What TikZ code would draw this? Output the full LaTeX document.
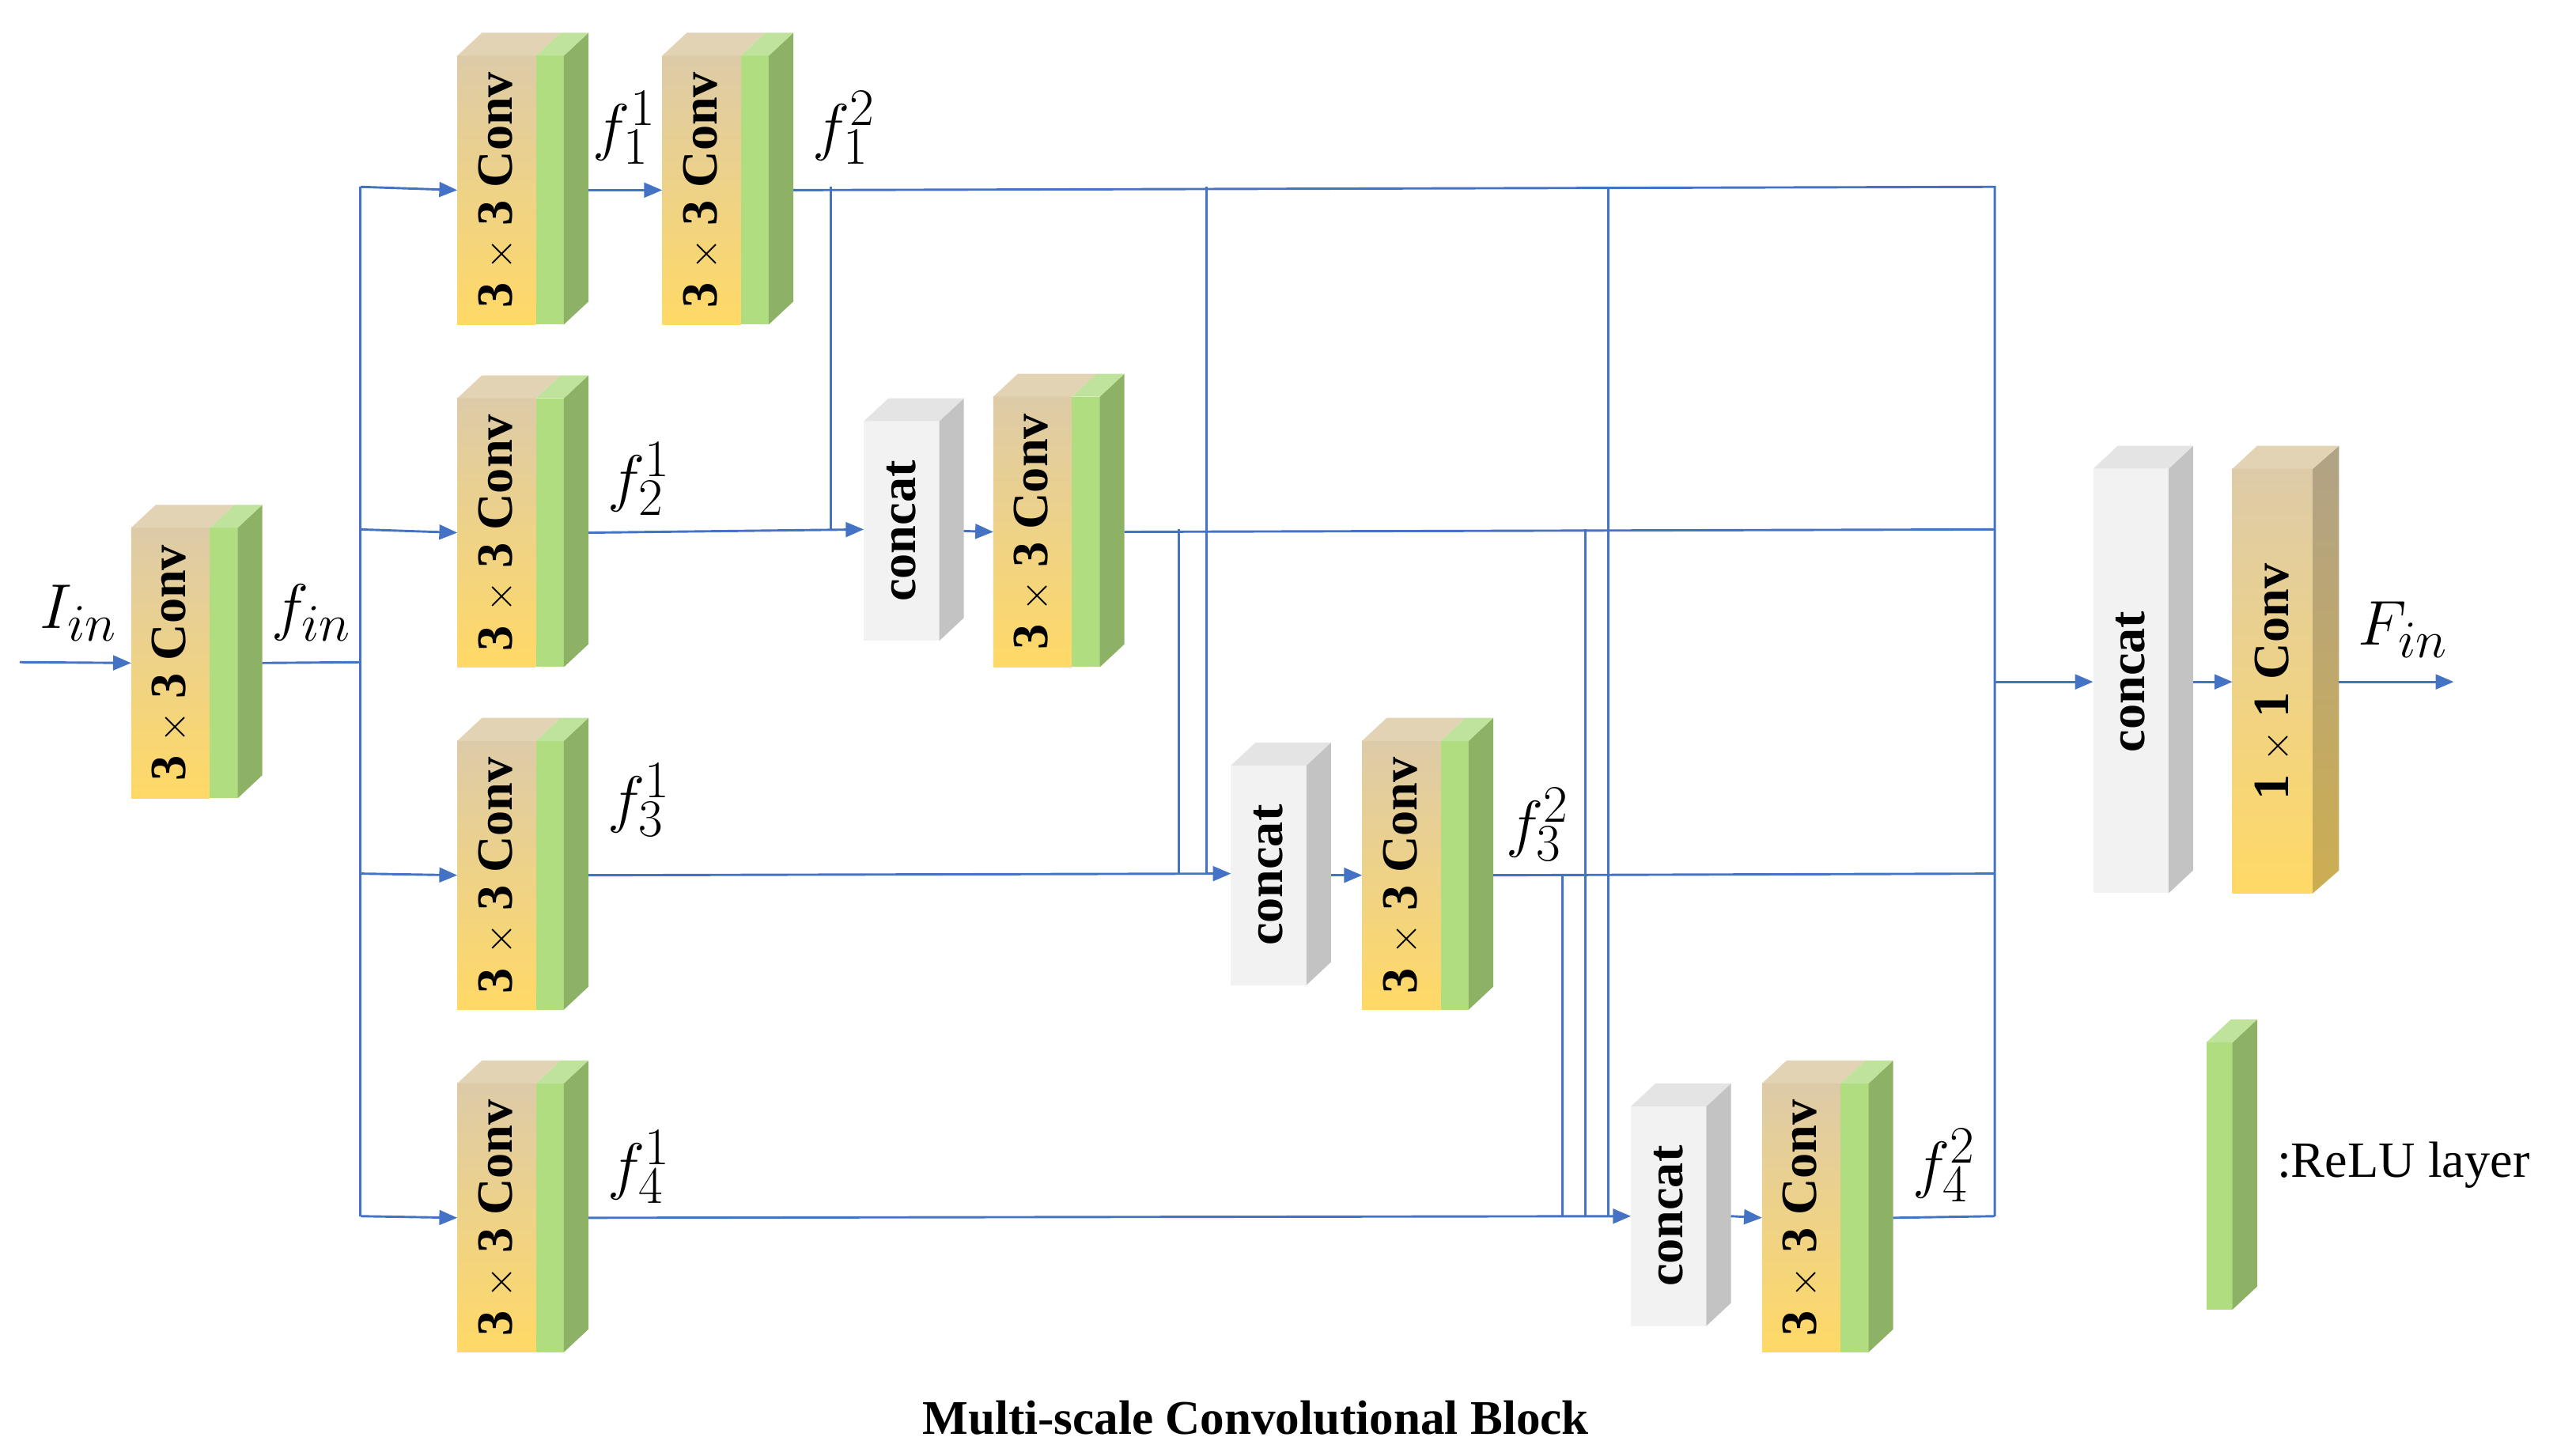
\documentclass[tikz,border=0pt]{standalone}
\usepackage{fontspec}
\setmainfont{Liberation Serif}
\usetikzlibrary{arrows.meta}
\definecolor{ln}{HTML}{4472C4}
\definecolor{convtop}{HTML}{DDCBA8}
\definecolor{convbot}{HTML}{FFD966}
\definecolor{tant}{HTML}{E3D3B5}
\definecolor{greenf}{HTML}{B0DD80}
\definecolor{greens}{HTML}{8DB165}
\definecolor{greent}{HTML}{BFE39C}
\definecolor{catf}{HTML}{F2F2F2}
\definecolor{cats}{HTML}{C3C3C3}
\definecolor{catt}{HTML}{E4E4E4}
\tikzset{
 conn/.style={draw=ln,line width=1.4pt},
 arr/.style={conn,-{Triangle[length=11pt,width=9pt]}},
 convtext/.style={rotate=90,font=\fontsize{31}{33}\selectfont\bfseries,inner sep=0pt},
 lab/.style={font=\fontsize{24.88}{26}\selectfont,scale=1.55,inner sep=0pt},
}
% #1 name, #2 x, #3 ytop, #4 ybot
\newcommand\convbox[4]{%
 \shade[top color=convtop,bottom color=convbot] (#2,#3) rectangle (#2+48,#4);
 \fill[greenf] (#2+48,#3) rectangle (#2+65,#4);
 \fill[greens] (#2+65,#3) -- (#2+80,#3-14) -- (#2+80,#4-14) -- (#2+65,#4) -- cycle;
 \fill[tant] (#2,#3) -- (#2+15,#3-14) -- (#2+63,#3-14) -- (#2+48,#3) -- cycle;
 \fill[greent] (#2+48,#3) -- (#2+63,#3-14) -- (#2+80,#3-14) -- (#2+65,#3) -- cycle;
 \node[convtext] (#1) at (#2+24,{(#3+#4)/2}) {3 $\times$ 3 Conv};
 \coordinate (#1-in) at (#2,{(#3+#4)/2});
 \coordinate (#1-out) at (#2+80,{(#3+#4)/2});
}
% #1 name, #2 x, #3 ytop, #4 ybot
\newcommand\catbox[4]{%
 \fill[catf] (#2,#3) rectangle (#2+46,#4);
 \fill[cats] (#2+46,#3) -- (#2+61,#3-14) -- (#2+61,#4-14) -- (#2+46,#4) -- cycle;
 \fill[catt] (#2,#3) -- (#2+15,#3-14) -- (#2+61,#3-14) -- (#2+46,#3) -- cycle;
 \node[convtext] (#1) at (#2+23,{(#3+#4)/2}) {concat};
 \coordinate (#1-out) at (#2+61,{(#3+#4)/2});
}
\begin{document}
\begin{tikzpicture}[x=1pt,y=-1pt]
\useasboundingbox (0,0) rectangle (1560,888);
% blocks
\convbox{c0}{80}{322}{487}
\convbox{c11}{279}{34}{198}
\convbox{c12}{404}{34}{198}
\convbox{c21}{279}{243}{407}
\convbox{c31}{279}{452}{616}
\convbox{c41}{279}{661}{825}
\catbox{k2}{527}{257}{391}
\convbox{c22}{606}{242}{407}
\catbox{k3}{751}{467}{601}
\convbox{c32}{831}{452}{616}
\catbox{k4}{995}{675}{809}
\convbox{c42}{1075}{661}{825}
% final concat
\fill[catf] (1277,286) rectangle (1323,545);
\fill[cats] (1323,286) -- (1338,272) -- (1338,531) -- (1323,545) -- cycle;
\fill[catt] (1277,286) -- (1292,272) -- (1338,272) -- (1323,286) -- cycle;
\node[convtext] (kf) at (1300,416) {concat};
% final 1x1 conv
\shade[top color=convtop,bottom color=convbot] (1362,286) rectangle (1411,545);
\shade[top color=convtop!80!black,bottom color=convbot!80!black] (1411,286) -- (1427,272) -- (1427,531) -- (1411,545) -- cycle;
\fill[tant] (1362,286) -- (1377,272) -- (1427,272) -- (1411,286) -- cycle;
\node[convtext] (cf) at (1387,416) {1 $\times$ 1 Conv};
% legend
\fill[greenf] (1346,636) rectangle (1362,799);
\fill[greens] (1362,636) -- (1377,622) -- (1377,785) -- (1362,799) -- cycle;
\fill[greent] (1346,636) -- (1361,622) -- (1377,622) -- (1362,636) -- cycle;
\node[font=\fontsize{31}{33}\selectfont,anchor=west,inner sep=0pt] (relu) at (1389,711) {:ReLU layer};
% labels
\node[lab] (lIin) at (48,374) {$I_{in}$};
\node[lab] (lfin) at (190,374) {$f_{in}$};
\node[lab] (l11) at (381,78) {$f_1^1$};
\node[lab] (l12) at (515,78) {$f_1^2$};
\node[lab] (l21) at (390,292) {$f_2^1$};
\node[lab] (l31) at (390,488) {$f_3^1$};
\node[lab] (l32) at (938,503) {$f_3^2$};
\node[lab] (l41) at (390,712) {$f_4^1$};
\node[lab] (l42) at (1186,711) {$f_4^2$};
\node[lab] (lFin) at (1466,384) {$F_{in}$};
\node[font=\fontsize{29.5}{32}\selectfont\bfseries] (title) at (766,865) {Multi-scale Convolutional Block};
% coordinates
\coordinate (src) at (12,404);
\coordinate (ja) at (220,404);
\coordinate (b1) at (220,114);
\coordinate (b4) at (220,742);
\coordinate (R1) at (1217,114);
\coordinate (R4) at (1217,742);
\coordinate (Rm) at (1217,416);
\coordinate (out) at (1497,416);
% connectors
\draw[arr] (src) -- (c0-in);
\draw[conn] (c0-out) -- (ja);
\draw[conn] (b1) -- (b4);
\draw[arr] (b1) -- (c11-in);
\draw[arr] (220,323) -- (c21-in);
\draw[arr] (220,533) -- (c31-in);
\draw[arr] (b4) -- (c41-in);
\draw[arr] (c11-out) -- (c12-in);
\draw[conn] (c12-out) -- (R1) -- (R4);
\draw[arr] (c21-out) -- (527,323);
\draw[arr] (k2-out) -- (c22-in);
\draw[conn] (c22-out) -- (1217,323);
\draw[arr] (c31-out) -- (751,533);
\draw[arr] (k3-out) -- (c32-in);
\draw[conn] (c32-out) -- (1217,533);
\draw[arr] (c41-out) -- (995,742);
\draw[arr] (k4-out) -- (c42-in);
\draw[conn] (c42-out) -- (R4);
% verticals
\draw[conn] (507,114) -- (507,323);
\draw[conn] (736,114) -- (736,533);
\draw[conn] (981,114) -- (981,742);
\draw[conn] (719,323) -- (719,533);
\draw[conn] (967,323) -- (967,742);
\draw[conn] (953,533) -- (953,742);
\draw[arr] (Rm) -- (1277,416);
\draw[arr] (1338,416) -- (1362,416);
\draw[arr] (1427,416) -- (out);
\end{tikzpicture}
\end{document}
